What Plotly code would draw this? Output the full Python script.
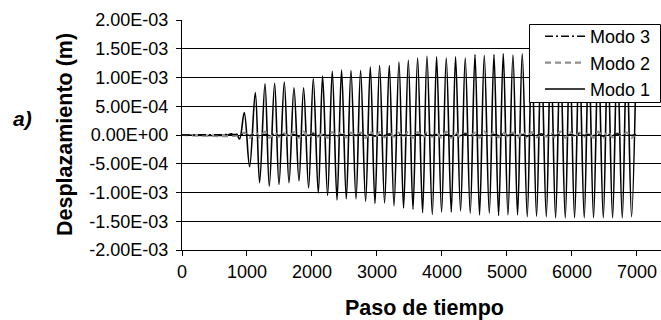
import plotly.graph_objects as go

# ---------------- data ----------------
# Mode 1: quiet start, then oscillation peaks / troughs (time step, displacement m)
pre_t = [0, 700, 760, 800, 840, 886]
pre_v = [0.0, 0.0, 2e-5, -2e-5, 1e-5, -7e-5]

peak_t = [958, 1128, 1277, 1425, 1574, 1723, 1871, 2020, 2163, 2312,
          2455, 2600, 2748, 2897, 3040, 3189, 3338, 3482, 3625, 3769,
          3917, 4066, 4209, 4358, 4508, 4651, 4800, 4943, 5092, 5235,
          5382, 5528, 5674, 5820, 5966, 6112, 6258, 6405, 6551, 6697,
          6843, 6989]
peak_v = [3.9e-4, 7.4e-4, 8.9e-4, 9.0e-4, 9.2e-4, 8.2e-4, 8.2e-4, 9.8e-4, 1.03e-3, 1.11e-3,
          1.13e-3, 1.12e-3, 1.12e-3, 1.18e-3, 1.21e-3, 1.21e-3, 1.27e-3, 1.30e-3, 1.34e-3, 1.37e-3,
          1.36e-3, 1.34e-3, 1.36e-3, 1.34e-3, 1.40e-3, 1.38e-3, 1.40e-3, 1.41e-3, 1.39e-3, 1.41e-3,
          1.42e-3, 1.42e-3, 1.43e-3, 1.43e-3, 1.44e-3, 1.44e-3, 1.44e-3, 1.44e-3, 1.44e-3, 1.43e-3,
          1.43e-3, 1.42e-3]

trough_t = [1040, 1194, 1343, 1492, 1646, 1800, 1948, 2097, 2240, 2385,
            2528, 2677, 2825, 2969, 3117, 3262, 3409, 3554, 3702, 3851,
            3994, 4143, 4286, 4435, 4578, 4728, 4871, 5015, 5163, 5312,
            5455, 5605, 5748, 5897, 6040, 6189, 6332, 6482, 6625, 6774,
            6917]
trough_v = [-5.5e-4, -8.3e-4, -8.9e-4, -8.6e-4, -8.3e-4, -8.0e-4, -9.2e-4, -1.01e-3, -1.05e-3, -1.13e-3,
            -1.11e-3, -1.11e-3, -1.15e-3, -1.19e-3, -1.18e-3, -1.23e-3, -1.27e-3, -1.29e-3, -1.35e-3, -1.38e-3,
            -1.34e-3, -1.34e-3, -1.32e-3, -1.36e-3, -1.39e-3, -1.36e-3, -1.40e-3, -1.39e-3, -1.39e-3, -1.42e-3,
            -1.41e-3, -1.42e-3, -1.44e-3, -1.44e-3, -1.44e-3, -1.44e-3, -1.44e-3, -1.44e-3, -1.44e-3, -1.44e-3,
            -1.42e-3]

# Modes 2 and 3: small oscillations about zero (same time base as mode-1 extremes)
quiet_t = [0, 900]
quiet_v = [0.0, 0.0]
mode2_v = [4e-5, -5e-5, 5e-5, -4e-5, 6e-5, -5e-5, 4e-5, -3e-5, 3e-5, -4e-5,
           5e-5, -5e-5, 6e-5, -4e-5, 4e-5, -3e-5, 3e-5, -5e-5, 5e-5, -5e-5,
           6e-5, -4e-5, 4e-5, -3e-5, 4e-5, -5e-5, 6e-5, -5e-5, 5e-5, -4e-5,
           3e-5, -3e-5, 4e-5, -5e-5, 6e-5, -5e-5, 5e-5, -4e-5, 4e-5, -3e-5,
           4e-5, -5e-5, 6e-5, -5e-5, 5e-5, -4e-5, 3e-5, -3e-5, 4e-5, -5e-5,
           6e-5, -5e-5, 5e-5, -4e-5, 4e-5, -3e-5, 4e-5, -5e-5, 6e-5, -5e-5,
           5e-5, -4e-5, 3e-5, -3e-5, 4e-5, -5e-5, 6e-5, -5e-5, 5e-5, -4e-5,
           4e-5, -3e-5, 4e-5, -5e-5, 6e-5, -5e-5, 5e-5, -4e-5, 3e-5, -3e-5,
           4e-5, -5e-5, 5e-5]
mode3_v = [1e-5, -1e-5, 1e-5, -2e-5, 1e-5, -1e-5, 2e-5, -1e-5, 1e-5, -1e-5,
           1e-5, -2e-5, 1e-5, -1e-5, 2e-5, -1e-5, 1e-5, -1e-5, 1e-5, -2e-5,
           1e-5, -1e-5, 2e-5, -1e-5, 1e-5, -1e-5, 1e-5, -2e-5, 1e-5, -1e-5,
           2e-5, -1e-5, 1e-5, -1e-5, 1e-5, -2e-5, 1e-5, -1e-5, 2e-5, -1e-5,
           1e-5, -1e-5, 1e-5, -2e-5, 1e-5, -1e-5, 2e-5, -1e-5, 1e-5, -1e-5,
           1e-5, -2e-5, 1e-5, -1e-5, 2e-5, -1e-5, 1e-5, -1e-5, 1e-5, -2e-5,
           1e-5, -1e-5, 2e-5, -1e-5, 1e-5, -1e-5, 1e-5, -2e-5, 1e-5, -1e-5,
           2e-5, -1e-5, 1e-5, -1e-5, 1e-5, -2e-5, 1e-5, -1e-5, 2e-5, -1e-5,
           1e-5, -1e-5, 1e-5]

y_tickvals = [2e-3, 1.5e-3, 1e-3, 5e-4, 0, -5e-4, -1e-3, -1.5e-3, -2e-3]
y_ticktext = ["2.00E-03", "1.50E-03", "1.00E-03", "5.00E-04", "0.00E+00",
              "-5.00E-04", "-1.00E-03", "-1.50E-03", "-2.00E-03"]
x_tickvals = [0, 1000, 2000, 3000, 4000, 5000, 6000, 7000]

# ---------------- build series ----------------
ext = sorted(list(zip(peak_t, peak_v)) + list(zip(trough_t, trough_v)))
ext_t = [p[0] for p in ext]
ext_v = [p[1] for p in ext]
m1_t = pre_t + ext_t
m1_v = pre_v + ext_v
n2 = min(len(ext_t), len(mode2_v))
m2_t = quiet_t + ext_t[:n2]
m2_v = quiet_v + mode2_v[:n2]
n3 = min(len(ext_t), len(mode3_v))
m3_t = quiet_t + ext_t[:n3]
m3_v = quiet_v + mode3_v[:n3]

FONT = "Arial, 'Liberation Sans', sans-serif"

fig = go.Figure()
fig.add_trace(go.Scatter(x=m1_t, y=m1_v, mode="lines", name="Modo 1",
                         line=dict(color="black", width=1.6, shape="spline", smoothing=1.0)))
fig.add_trace(go.Scatter(x=m2_t, y=m2_v, mode="lines", name="Modo 2",
                         line=dict(color="#909090", width=2.2, dash="6px,4px",
                                   shape="spline", smoothing=1.0)))
fig.add_trace(go.Scatter(x=m3_t, y=m3_v, mode="lines", name="Modo 3",
                         line=dict(color="black", width=1.5, dash="8px,3px,2px,3px")))

L, R, T, B = 182, 0, 20, 70
W, H = 661, 320
pw = W - L - R
ph = H - T - B

def px_x(p):
    return (p - L) / pw

def px_y(p):
    return (H - B - p) / ph

fig.update_layout(
    width=W, height=H,
    margin=dict(l=L, r=R, t=T, b=B, pad=0),
    paper_bgcolor="white", plot_bgcolor="white",
    font=dict(family=FONT, size=18, color="black"),
    showlegend=True,
    legend=dict(x=px_x(540), y=px_y(18), xanchor="left", yanchor="top",
                traceorder="reversed", bgcolor="rgba(0,0,0,0)", borderwidth=0,
                font=dict(family=FONT, size=18, color="black"),
                tracegroupgap=0, itemwidth=40),
    shapes=[dict(type="rect", xref="paper", yref="paper",
                 x0=px_x(529.5), x1=px_x(660.5), y0=px_y(102.5), y1=px_y(24.5),
                 fillcolor="white", line=dict(color="black", width=1), layer="above")],
    xaxis=dict(range=[0, 7370], tickvals=x_tickvals, showgrid=False, zeroline=False,
               showline=True, linecolor="black", linewidth=1,
               ticks="outside", ticklen=5, tickcolor="black",
               tickfont=dict(family=FONT, size=18, color="black")),
    yaxis=dict(range=[-2e-3, 2e-3], tickvals=y_tickvals, ticktext=y_ticktext,
               showgrid=True, gridcolor="black", gridwidth=1, zeroline=False,
               showline=True, linecolor="black", linewidth=1,
               ticks="outside", ticklen=5, tickcolor="black", ticklabelstandoff=4,
               tickfont=dict(family=FONT, size=18, color="black")),
    annotations=[
        dict(text="<b>Paso de tiempo</b>", xref="paper", yref="paper",
             x=px_x(424), y=px_y(308), xanchor="center", yanchor="middle",
             showarrow=False, font=dict(family=FONT, size=21.5, color="black")),
        dict(text="<b>Desplazamiento (m)</b>", xref="paper", yref="paper",
             x=px_x(65), y=px_y(135), xanchor="center", yanchor="middle",
             textangle=-90, showarrow=False, font=dict(family=FONT, size=21.5, color="black")),
        dict(text="<b><i>a)</i></b>", xref="paper", yref="paper",
             x=px_x(22), y=px_y(119), xanchor="center", yanchor="middle",
             showarrow=False, font=dict(family=FONT, size=21, color="black")),
    ],
)

fig.write_html("out.html")
